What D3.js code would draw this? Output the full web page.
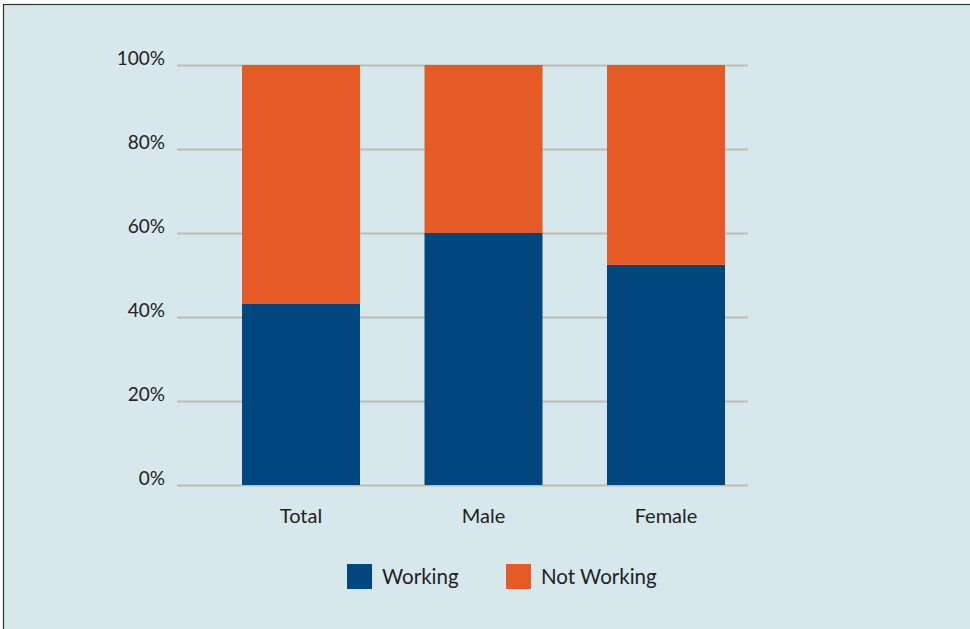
<!DOCTYPE html>
<html><head><meta charset="utf-8">
<script src="https://cdn.jsdelivr.net/npm/d3@7"></script>
<style>html,body{margin:0;padding:0;background:#fff;}svg{display:block;}</style>
</head><body>
<svg id="c" width="970" height="629"></svg>
<script>
const categories = ["Total", "Male", "Female"];
const working = [43.1, 60.0, 52.4];
const notWorking = [56.9, 40.0, 47.6];
const seriesNames = ["Working", "Not Working"];
const seriesColors = ["#00467f", "#e65a26"];
const yTicks = [0, 20, 40, 60, 80, 100];

const svg = d3.select("#c");
svg.append("rect").attr("x", 3.5).attr("y", 4.5).attr("width", 970).attr("height", 630)
  .attr("fill", "#d6e8eb").attr("stroke", "#333").attr("stroke-width", 1.2);

const font = "Lato, 'Open Sans', sans-serif";
const y = d3.scaleLinear().domain([0, 100]).range([485, 65]);
const x = d3.scaleBand().domain(categories).range([242, 725]).paddingInner(0.3534).paddingOuter(0);

const g = svg.append("g");
const yAxis = d3.axisLeft(y).tickValues(yTicks).tickSize(-571).tickFormat(d => d + "%");
const ya = g.append("g").attr("transform", "translate(177,0)").call(yAxis);
ya.select(".domain").remove();
ya.selectAll(".tick line").attr("stroke", "#bdbdb5").attr("stroke-width", 2);
ya.selectAll(".tick text").attr("x", -12).attr("dy", "-0.05em")
  .attr("font-family", font).attr("font-size", 19).attr("fill", "#222");

const data = categories.map((c, i) => ({cat: c, vals: [working[i], notWorking[i]]}));
const stackData = d3.stack().keys([0, 1]).value((d, k) => d.vals[k])(data);

g.selectAll("g.s").data(stackData).join("g").attr("class", "s")
  .attr("fill", (d, i) => seriesColors[i])
  .selectAll("rect").data(d => d).join("rect")
  .attr("x", d => x(d.data.cat)).attr("width", x.bandwidth())
  .attr("y", d => y(d[1])).attr("height", d => y(d[0]) - y(d[1]));

const xAxis = d3.axisBottom(x).tickSize(0);
const xa = g.append("g").attr("transform", "translate(0,485)").call(xAxis);
xa.select(".domain").remove();
xa.selectAll(".tick text").attr("dy", 0).attr("y", 38)
  .attr("font-family", font).attr("font-size", 20).attr("fill", "#222");

const legendX = [347, 506];
const lg = svg.append("g");
seriesNames.forEach((n, i) => {
  lg.append("rect").attr("x", legendX[i]).attr("y", 564).attr("width", 25).attr("height", 25).attr("fill", seriesColors[i]);
  lg.append("text").attr("x", legendX[i] + 35).attr("y", 584).attr("font-family", font)
    .attr("font-size", 20.5).attr("fill", "#222").text(n);
});
</script>
</body></html>
